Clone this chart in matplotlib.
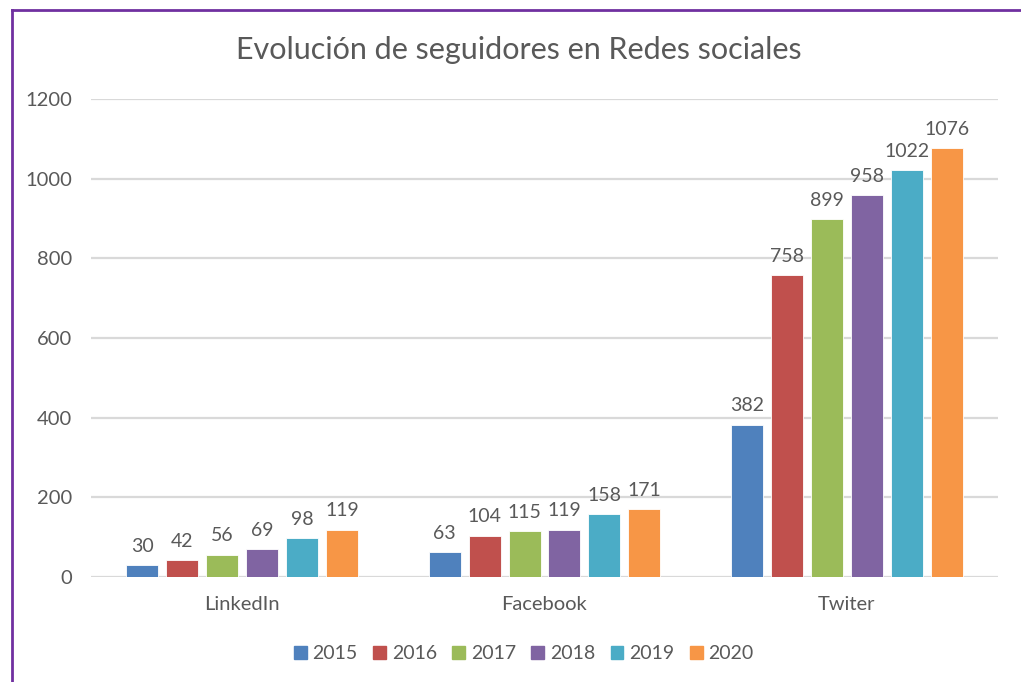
import matplotlib.pyplot as plt
import numpy as np
from matplotlib.patches import Rectangle
from matplotlib.lines import Line2D

# chart data
networks = ['LinkedIn', 'Facebook', 'Twiter']
years = ['2015', '2016', '2017', '2018', '2019', '2020']
followers_2015 = [30, 63, 382]
followers_2016 = [42, 104, 758]
followers_2017 = [56, 115, 899]
followers_2018 = [69, 119, 958]
followers_2019 = [98, 158, 1022]
followers_2020 = [119, 171, 1076]
y_ticks = [0, 200, 400, 600, 800, 1000, 1200]

all_series = [followers_2015, followers_2016, followers_2017,
              followers_2018, followers_2019, followers_2020]
colors = ['#4F81BD', '#C0504D', '#9BBB59', '#8064A2', '#4BACC6', '#F79646']
text_color = '#595959'

plt.rcParams['font.family'] = ['Lato', 'DejaVu Sans']

fig = plt.figure(figsize=(10.21, 6.82), dpi=100)
ax = fig.add_axes([0.0891, 0.154, 0.8884, 0.7008])

x = np.arange(len(networks))
step = 0.132
width = 0.106

for i in range(len(years)):
    offset = (i - 2.5) * step
    ax.bar(x + offset, all_series[i], width, color=colors[i],
           edgecolor='white', linewidth=0.6, label=years[i], zorder=3)
    for xi, v in zip(x + offset, all_series[i]):
        ax.text(xi, v + 26, str(v), ha='center', va='bottom',
                fontsize=14, color=text_color)

ax.set_xlim(-0.5, 2.5)
ax.set_ylim(0, 1200)
ax.set_yticks(y_ticks)
ax.set_yticklabels([str(t) for t in y_ticks])
ax.set_xticks(x)
ax.set_xticklabels(networks)
ax.tick_params(axis='both', length=0, labelsize=14.5, colors=text_color)
ax.tick_params(axis='y', pad=13.5)
ax.tick_params(axis='x', pad=14)

ax.grid(axis='y', color='#D9D9D9', linewidth=1.6, zorder=0)
for s in ax.spines.values():
    s.set_visible(False)

fig.text(0.508, 0.927, 'Evolución de seguidores en Redes sociales',
         ha='center', va='center', fontsize=22, color=text_color)

handles = [Rectangle((0, 0), 1, 1, color=c) for c in colors]
fig.legend(handles, years, loc='center', bbox_to_anchor=(0.513, 0.042),
           ncol=6, frameon=False, fontsize=14, handlelength=0.65,
           handleheight=0.65, handletextpad=0.3, columnspacing=0.8,
           labelcolor=text_color)

# purple frame (top and left edges visible)
fig.add_artist(Line2D([0.0118, 1.0], [0.9853, 0.9853], color='#7030A0',
                      linewidth=2, transform=fig.transFigure))
fig.add_artist(Line2D([0.0118, 0.0118], [0.0, 0.9853], color='#7030A0',
                      linewidth=2, transform=fig.transFigure))

plt.savefig('out.png', dpi=100)
plt.close()
